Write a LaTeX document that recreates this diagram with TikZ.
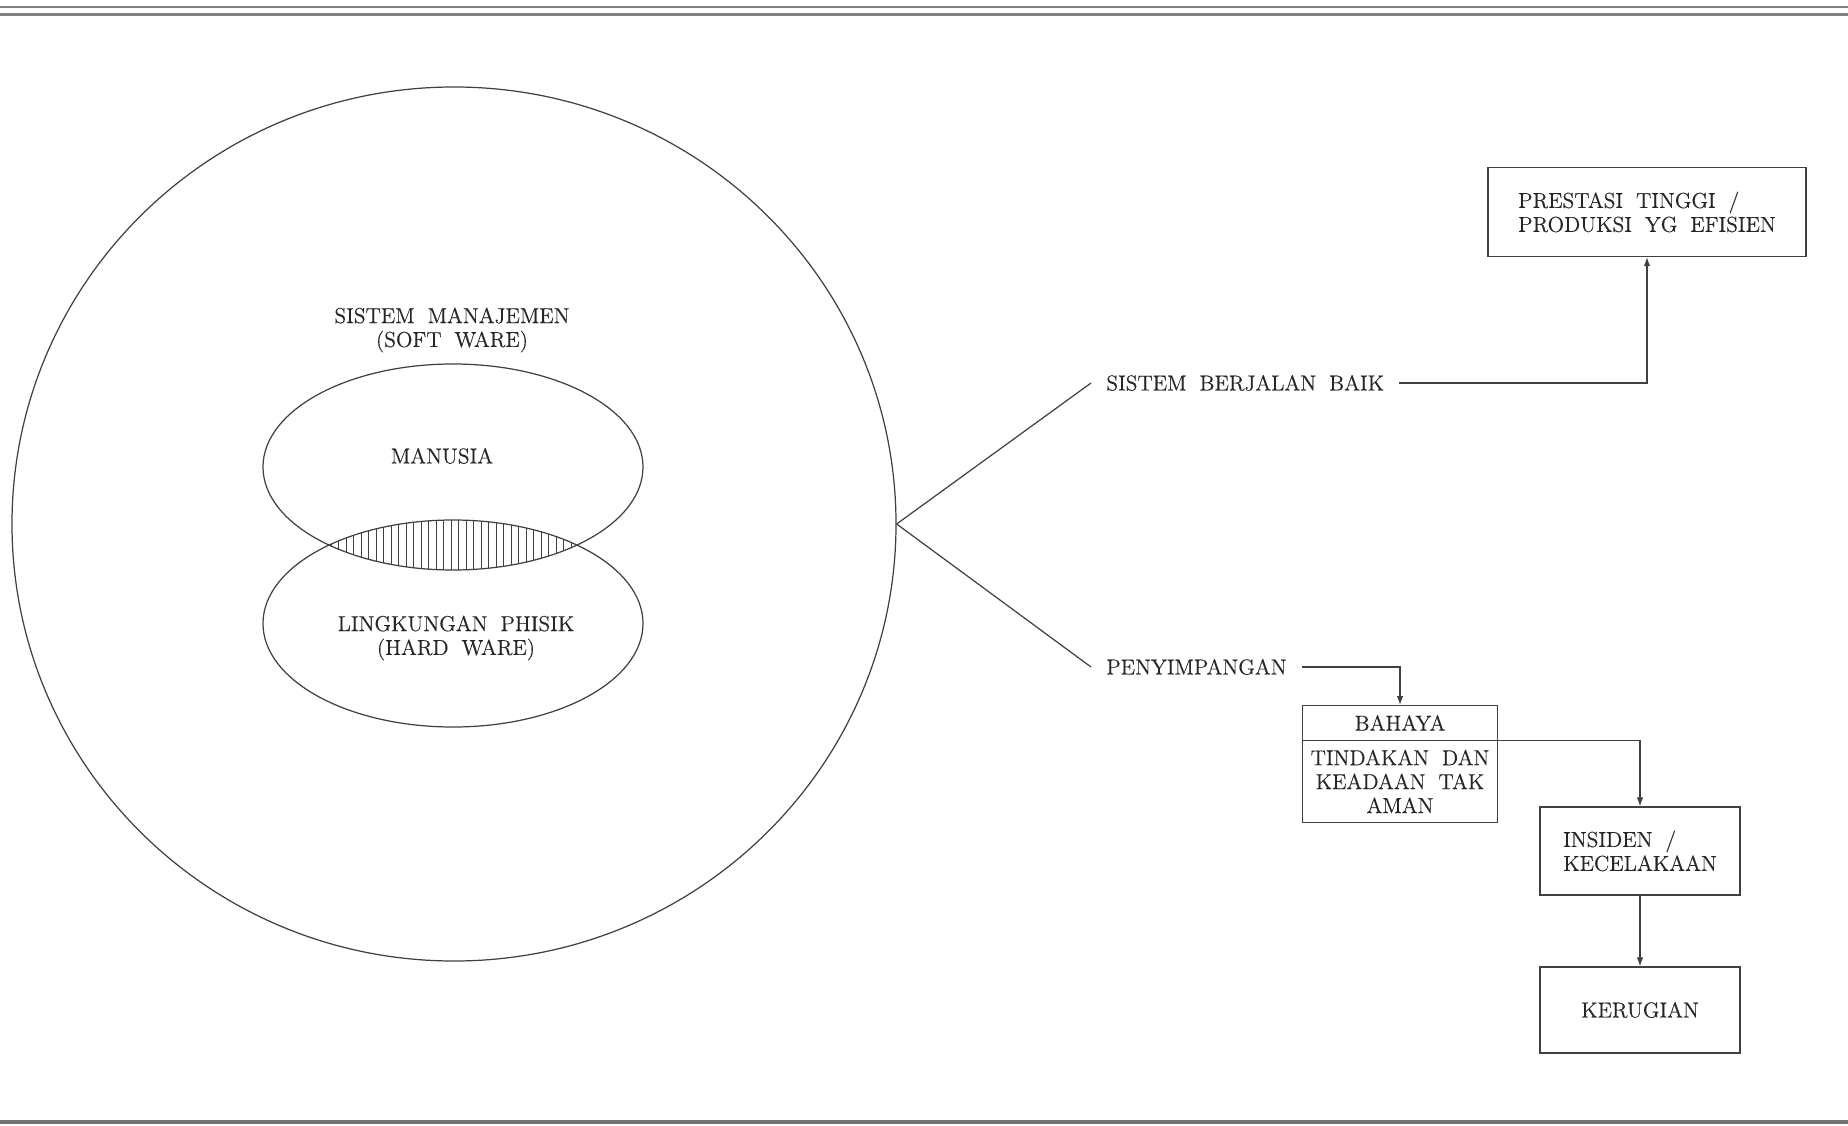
\documentclass[tikz,border=0pt]{standalone}
\usepackage{fontspec}
\usetikzlibrary{arrows.meta,shapes.geometric,shapes.multipart}
\newfontfamily\hurufdasar{Latin Modern Roman}[FakeBold=0.35]
\def\hurufku{\hurufdasar\fontsize{12.3pt}{13.6pt}\selectfont\spaceskip 0.6em\relax}

\begin{document}
\begin{tikzpicture}[x=0.2mm, y=-0.2mm,
	teks/.style={text=black!85, font=\hurufku},
	garis/.style={line width=0.7pt, draw=black!75},
	label/.style={teks, inner xsep=3mm, inner ysep=1mm},
	kotak/.style={teks, garis, rectangle, align=left, minimum width=40mm},
	panah/.style={garis, -{Latex[length=1.8mm,width=1.3mm]}}]
			%%%%% START %%%%%
			\useasboundingbox (0,0) rectangle (1848,1126);
			
			\draw[line width=0.45mm, color=black!50] (0,7) -- (1848,7);
			\draw[line width=0.45mm, color=black!50] (0,14.5) -- (1848,14.5);
			\draw[line width=0.7mm, color=black!55] (0,1122) -- (1848,1122);
			
			\node[garis, ellipse, minimum width=176.8mm, minimum height=174.8mm, inner sep=0pt] (lingkup) at (454,524) {};
			
			\draw[garis] (453,467) ellipse [x radius=190, y radius=103];
			\draw[garis] (453,623.5) ellipse [x radius=190, y radius=103.5];
			\begin{scope}
				\clip (453,467) ellipse [x radius=190, y radius=103];
				\clip (453,623.5) ellipse [x radius=190, y radius=103.5];
				\foreach \x in {331,338.5,...,578} \draw[garis, line width=0.5pt] (\x,512) -- (\x,578);
			\end{scope}
			
			\node[teks, align=center] (sisman) at (452,330) {SISTEM MANAJEMEN\\(SOFT WARE)};
			\node[teks] (manusia) at (442,456) {MANUSIA};
			\node[teks, align=center] (phisik) at (456,638) {LINGKUNGAN PHISIK\\(HARD WARE)};
			
			\node[label, anchor=west] (baik) at (1091,383) {SISTEM BERJALAN BAIK};
			\node[label, anchor=west] (simpang) at (1091,667) {PENYIMPANGAN};
			
			\node[kotak, minimum width=63.6mm, minimum height=17.8mm] (prestasi) at (1647,212) {PRESTASI TINGGI /\\PRODUKSI YG EFISIEN};
			\node[teks, garis, rectangle split, rectangle split parts=2, align=center, minimum width=39mm, inner ysep=5.1pt, anchor=north] (bahaya) at (1400,705) {BAHAYA\nodepart{two}TINDAKAN DAN\\KEADAAN TAK\\AMAN};
			\node[kotak, minimum height=17.6mm] (insiden) at (1640,851) {INSIDEN /\\KECELAKAAN};
			\node[kotak, minimum height=17.2mm] (rugi) at (1640,1010) {KERUGIAN};
			
			\draw[garis] (lingkup.east) -- (baik.west);
			\draw[garis] (lingkup.east) -- (simpang.west);
			\draw[panah] (baik.east) -| (prestasi.south);
			\draw[panah] (simpang.east) -| (bahaya.north);
			\draw[panah] (bahaya.text split east) -| (insiden.north);
			\draw[panah] (insiden.south) -- (rugi.north);
			
			%%%%% END %%%%%
\end{tikzpicture}
\end{document}
